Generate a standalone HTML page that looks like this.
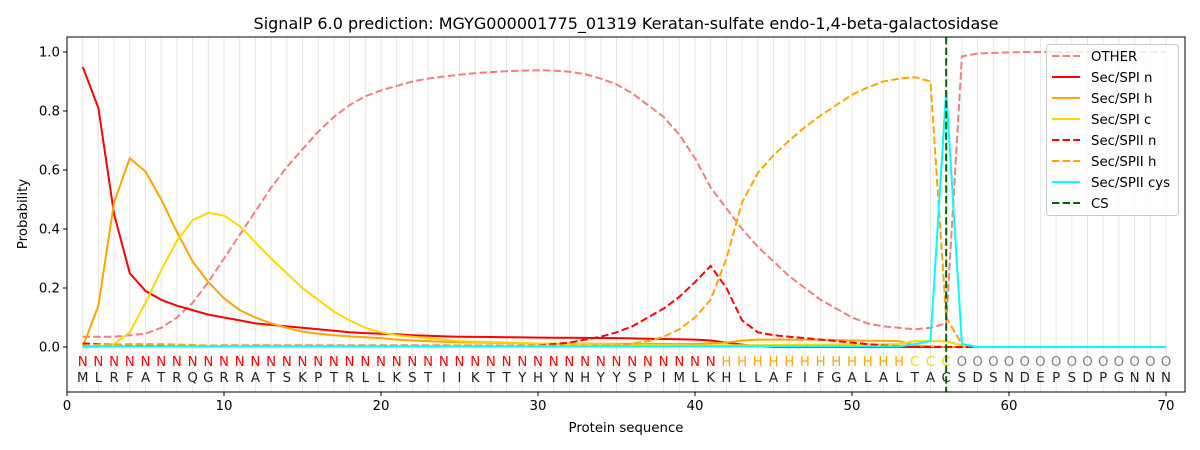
<!DOCTYPE html>
<html><head><meta charset="utf-8"><style>body{margin:0;background:#fff}svg{display:block}text{font-family:"DejaVu Sans","Liberation Sans",sans-serif}</style></head>
<body>
<svg id="s" width="1200" height="450" xmlns="http://www.w3.org/2000/svg"></svg>
<script>
const s=document.getElementById('s');
const X=v=>67+v*15.7, Y=v=>347-v*295;
let h='';
for(let i=1;i<=70;i++){h+=`<line x1="${X(i)}" x2="${X(i)}" y1="37" y2="392" stroke="#e6e6e6" stroke-width="1"/>`;}
const seq="MLRFATRQGRRATSKPTRLLKSTIIKTTYHYNHYYSPIMLKHLLAFIFGALALTACSDSNDEPSDPGNNN";
for(let i=1;i<=70;i++){
 let lab,c;
 if(i<=41){lab='N';c='#ff0000'}else if(i<=53){lab='H';c='#ffa500'}else if(i<=56){lab='C';c='#ffd700'}else{lab='O';c='#808080'}
 h+=`<text x="${X(i)}" y="366" font-size="13.3" fill="${c}" text-anchor="middle">${lab}</text>`;
 h+=`<text x="${X(i)}" y="382" font-size="13.3" fill="#222" text-anchor="middle">${seq[i-1]}</text>`;
}
function fill(pts){const a=[];for(let i=1;i<=70;i++){let v=0;let k=Object.keys(pts).map(Number).sort((a,b)=>a-b);
 if(pts[i]!==undefined)v=pts[i];else{let lo=k.filter(x=>x<i).pop(),hi=k.find(x=>x>i);if(lo===undefined)v=pts[hi];else if(hi===undefined)v=pts[lo];else v=pts[lo]+(pts[hi]-pts[lo])*(i-lo)/(hi-lo);}a.push(v);}return a;}
const other=fill({1:.035,2:.035,3:.035,4:.04,5:.045,6:.065,7:.1,8:.15,9:.22,10:.3,11:.38,12:.46,13:.54,14:.61,15:.67,16:.73,17:.78,18:.82,19:.85,20:.87,21:.885,22:.9,23:.91,24:.917,25:.923,26:.928,27:.932,28:.935,29:.937,30:.938,31:.937,32:.933,33:.925,34:.91,35:.89,36:.86,37:.82,38:.78,39:.72,40:.64,41:.54,42:.47,43:.4,44:.34,45:.29,46:.24,47:.2,48:.16,49:.13,50:.1,51:.08,52:.07,53:.065,54:.06,55:.065,56:.08,57:.985,58:.995,59:.997,61:1,70:1});
const n1=fill({1:.95,2:.81,3:.45,4:.25,5:.19,6:.16,7:.14,8:.125,9:.11,10:.1,11:.09,12:.08,13:.075,14:.07,15:.065,16:.06,17:.055,18:.05,19:.047,20:.045,21:.043,22:.04,23:.038,24:.036,25:.035,30:.032,35:.03,40:.025,41:.022,42:.015,43:.008,44:.003,45:0,70:0});
const h1=fill({1:0,2:.14,3:.49,4:.64,5:.595,6:.5,7:.39,8:.29,9:.22,10:.165,11:.125,12:.1,13:.08,14:.065,15:.052,16:.045,17:.04,18:.036,19:.033,20:.03,21:.025,22:.022,23:.02,24:.018,25:.016,30:.012,40:.01,42:.015,43:.022,44:.025,48:.025,50:.022,53:.02,54:.005,56:0,70:0});
const c1=fill({1:0,2:0,3:.01,4:.05,5:.15,6:.26,7:.36,8:.43,9:.455,10:.445,11:.41,12:.355,13:.3,14:.25,15:.2,16:.16,17:.12,18:.09,19:.065,20:.05,21:.04,22:.035,23:.03,24:.025,25:.02,30:.012,40:.005,53:.01,54:.02,56:.02,57:.005,58:0,70:0});
const n2=fill({1:.012,2:.01,3:.008,4:.006,5:.005,30:.005,31:.01,32:.015,33:.025,34:.035,35:.05,36:.07,37:.1,38:.13,39:.17,40:.22,41:.275,42:.2,43:.09,44:.05,45:.04,46:.035,47:.03,48:.025,49:.02,50:.015,51:.01,52:.005,53:.003,54:0,70:0});
const h2=fill({1:.005,2:.008,3:.008,4:.01,6:.01,7:.008,8:.007,9:.005,10:.004,35:.005,36:.012,37:.02,38:.035,39:.06,40:.1,41:.16,42:.3,43:.49,44:.59,45:.65,46:.7,47:.745,48:.785,49:.82,50:.855,51:.88,52:.9,53:.91,54:.915,55:.9,56:.1,57:.01,58:0,70:0});
const cy=fill({1:.002,53:.002,54:.01,55:.02,56:.87,57:.01,58:0,70:0});
function line(a,c,d){return `<polyline fill="none" stroke="${c}" stroke-width="2" ${d?'stroke-dasharray="7.4,3.2"':''} points="${a.map((v,i)=>X(i+1).toFixed(1)+','+Y(v).toFixed(1)).join(' ')}"/>`;}
h+=line(other,'#f08080',1)+line(n1,'#ff0000')+line(h1,'#ffa500')+line(c1,'#ffd700')+line(n2,'#ff0000',1)+line(h2,'#ffa500',1)+line(cy,'#00ffff');
h+=`<line x1="${X(56)}" x2="${X(56)}" y1="37" y2="392" stroke="#006400" stroke-width="2" stroke-dasharray="7.4,3.2"/>`;
h+=`<rect x="67" y="37" width="1118" height="355" fill="none" stroke="#000" stroke-width="1"/>`;
for(let t=0;t<=70;t+=10){h+=`<line x1="${X(t)}" x2="${X(t)}" y1="392" y2="396" stroke="#000"/><text x="${X(t)}" y="410" font-size="13.3" text-anchor="middle">${t}</text>`;}
for(let t=0;t<=5;t++){const v=t*0.2;h+=`<line x1="63" x2="67" y1="${Y(v)}" y2="${Y(v)}" stroke="#000"/><text x="60" y="${Y(v)+4.5}" font-size="13.3" text-anchor="end">${v.toFixed(1)}</text>`;}
h+=`<text x="626" y="432" font-size="13.3" text-anchor="middle">Protein sequence</text>`;
h+=`<text transform="translate(27,214) rotate(-90)" font-size="13.3" text-anchor="middle">Probability</text>`;
h+=`<text x="626" y="29" font-size="16" text-anchor="middle">SignalP 6.0 prediction: MGYG000001775_01319 Keratan-sulfate endo-1,4-beta-galactosidase</text>`;
h+=`<rect x="1046.5" y="44.5" width="132" height="171" rx="3" fill="#fff" fill-opacity="0.8" stroke="#ccc"/>`;
const L=[['OTHER','#f08080',1],['Sec/SPI n','#ff0000'],['Sec/SPI h','#ffa500'],['Sec/SPI c','#ffd700'],['Sec/SPII n','#ff0000',1],['Sec/SPII h','#ffa500',1],['Sec/SPII cys','#00ffff'],['CS','#006400',1]];
L.forEach((l,i)=>{const y=56+i*21;h+=`<line x1="1052" x2="1080" y1="${y}" y2="${y}" stroke="${l[1]}" stroke-width="2" ${l[2]?'stroke-dasharray="7.4,3.2"':''}/><text x="1091" y="${y+5}" font-size="13.3">${l[0]}</text>`;});
s.innerHTML=h;
</script>
</body></html>
